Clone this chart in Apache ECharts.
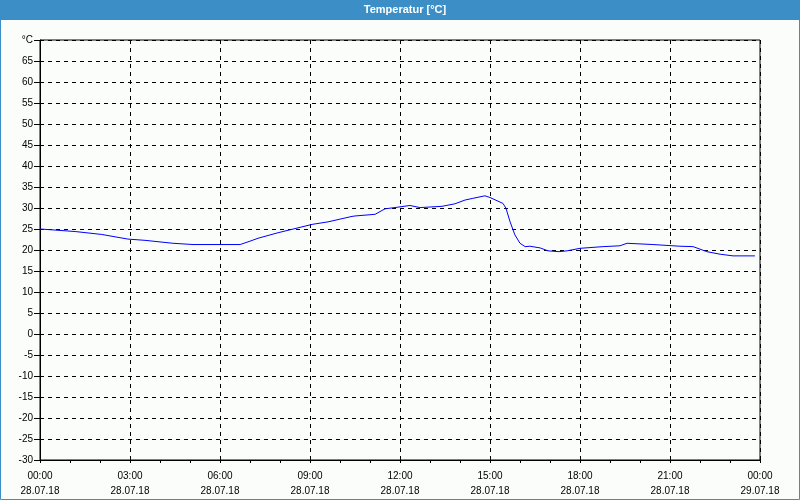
<!DOCTYPE html>
<html>
<head>
<meta charset="utf-8">
<script src="https://cdn.jsdelivr.net/npm/echarts@6/dist/echarts.min.js"></script>
<style>
html,body{margin:0;padding:0;background:#fbfdfb;}
#chart{width:800px;height:500px;}
</style>
</head>
<body>
<div id="chart"></div>
<script>
// time in hours since 28.07.18 00:00
const hours = [0.0,0.4,1.17,2.06,2.93,3.5,3.9,4.43,5.1,6.0,6.67,7.0,7.27,7.93,8.5,9.07,9.6,10.4,10.5,11.17,11.5,11.93,12.33,12.67,13.4,13.83,14.17,14.43,14.83,15.0,15.43,15.53,15.67,15.83,16.0,16.17,16.33,16.67,16.93,17.3,17.57,18.0,18.77,19.33,19.57,20.43,21.33,21.77,22.23,22.67,23.1,23.83];
const temps = [25.0,24.8,24.4,23.7,22.6,22.3,22.0,21.6,21.3,21.3,21.3,22.1,22.8,24.1,25.1,26.1,26.7,28.0,28.1,28.5,29.8,30.2,30.6,30.1,30.4,31.0,31.9,32.3,32.9,32.5,31.1,30.0,26.7,23.6,21.6,20.8,20.9,20.5,19.8,19.6,19.8,20.4,20.8,21.0,21.6,21.3,20.9,20.8,19.6,19.0,18.6,18.6];
const xTickTimes = ['00:00','03:00','06:00','09:00','12:00','15:00','18:00','21:00','00:00'];
const xTickDates = ['28.07.18','28.07.18','28.07.18','28.07.18','28.07.18','28.07.18','28.07.18','28.07.18','29.07.18'];
const title = 'Temperatur [°C]';
const unit = '°C';

const data = hours.map((h, i) => [h * 60, temps[i]]);
const chart = echarts.init(document.getElementById('chart'), null, {renderer: 'canvas'});
const font = 'Liberation Sans, Arial, sans-serif';
chart.setOption({
  animation: false,
  backgroundColor: '#fbfdfb',
  graphic: [
    {type: 'rect', shape: {x: 0, y: 0, width: 800, height: 20}, style: {fill: '#3b8fc6'}, z: 0},
    {type: 'rect', shape: {x: 0.5, y: 0.5, width: 799, height: 499}, style: {fill: null, stroke: '#3b8fc6', lineWidth: 1}, z: 0},
    {type: 'text', x: 405, y: 10, style: {text: title, fill: '#ffffff', font: 'bold 11px ' + font, textAlign: 'center', textVerticalAlign: 'middle'}, z: 10}
  ],
  grid: {left: 40, right: 40, top: 40, bottom: 40, show: true, borderColor: '#000', borderWidth: 1, backgroundColor: 'transparent'},
  xAxis: {
    type: 'value', min: 0, max: 1440, interval: 180,
    axisLine: {show: true, onZero: false, lineStyle: {color: '#000', width: 1}},
    axisTick: {show: true, length: 3, lineStyle: {color: '#000'}},
    minorTick: {show: true, splitNumber: 3, length: 3, lineStyle: {color: '#000'}},
    splitLine: {show: true, lineStyle: {color: '#000', type: [4, 4], width: 1}},
    axisLabel: {
      color: '#000', fontSize: 10, fontFamily: font, margin: 9, lineHeight: 15,
      formatter: v => { const i = Math.round(v / 180); return xTickTimes[i] + '\n' + xTickDates[i]; }
    }
  },
  yAxis: {
    type: 'value', min: -30, max: 70, interval: 5,
    axisLine: {show: true, onZero: false, lineStyle: {color: '#000', width: 1}},
    axisTick: {show: true, length: 6, lineStyle: {color: '#000'}},
    splitLine: {show: true, lineStyle: {color: '#000', type: [4, 4], width: 1}},
    axisLabel: {
      color: '#000', fontSize: 10, fontFamily: font, margin: 7,
      formatter: v => v === 70 ? unit : String(v)
    }
  },
  series: [{
    type: 'line', data: data, showSymbol: false, symbol: 'none',
    lineStyle: {color: '#0000ff', width: 1}, z: 5
  }]
});
</script>
</body>
</html>
